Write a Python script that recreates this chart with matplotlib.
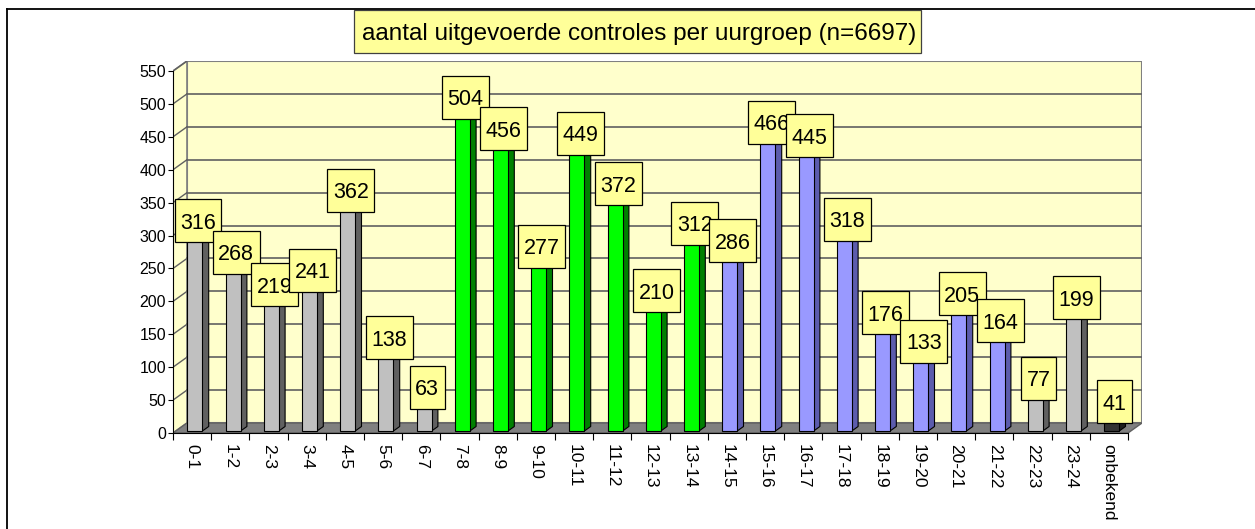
import matplotlib.pyplot as plt
import matplotlib.transforms as mtransforms
from matplotlib.patches import Polygon, Rectangle
import numpy as np

plt.rcParams['font.family'] = ['Liberation Sans', 'DejaVu Sans']

# data
hours = ['0-1', '1-2', '2-3', '3-4', '4-5', '5-6', '6-7', '7-8', '8-9', '9-10',
         '10-11', '11-12', '12-13', '13-14', '14-15', '15-16', '16-17', '17-18',
         '18-19', '19-20', '20-21', '21-22', '22-23', '23-24', 'onbekend']
counts = [316, 268, 219, 241, 362, 138, 63, 504, 456, 277, 449, 372, 210, 312,
          286, 466, 445, 318, 176, 133, 205, 164, 77, 199, 41]
groups = ['grijs'] * 7 + ['groen'] * 7 + ['blauw'] * 8 + ['grijs'] * 2 + ['onbekend']
title = 'aantal uitgevoerde controles per uurgroep (n=6697)'
yticks = list(range(0, 551, 50))

# front / side colour per group
colors = {'grijs': ('#c0c0c0', '#606060'),
          'groen': ('#00ff00', '#008000'),
          'blauw': ('#9999ff', '#5c5cad'),
          'onbekend': ('#333333', '#1e1e1e')}

W, H = 1255, 529
fig = plt.figure(figsize=(W / 100, H / 100), dpi=100)

n = len(hours)
ymax = yticks[-1]
dx, dy = 0.366, 15.2          # depth of the 3-d box, in data units
f0, f1 = 0.2, 0.65            # bar front / back as part of the depth
bw = 0.393                    # bar width

# axes placed in pixels: front plane 173..1128 wide, 433..71 high
left, right, bottom, top = 173, 1142, 433, 61
ax = fig.add_axes([left / W, 1 - bottom / H, (right - left) / W, (bottom - top) / H])
ax.set_xlim(-0.5, n - 0.5 + dx)
ax.set_ylim(0, ymax + dy)
ax.patch.set_visible(False)

wall = '#ffffcc'
edge = '#808080'
grid = '#606060'
x0, x1 = -0.5, n - 0.5

# back wall, side wall, floor
ax.add_patch(Rectangle((x0 + dx, dy), x1 - x0, ymax, facecolor=wall, edgecolor=edge, lw=1.5, zorder=0))
ax.add_patch(Polygon([(x0, 0), (x0 + dx, dy), (x0 + dx, ymax + dy), (x0, ymax)],
                     facecolor=wall, edgecolor=edge, lw=1.2, zorder=0))
for t in yticks[1:-1]:
    ax.plot([x0 + dx, x1 + dx], [t + dy, t + dy], color=grid, lw=1.2, zorder=1)
for t in yticks[1:]:
    ax.plot([x0, x0 + dx], [t, t + dy], color=grid, lw=1.0, zorder=1)
ax.add_patch(Polygon([(x0, 0), (x1, 0), (x1 + dx, dy), (x0 + dx, dy)],
                     facecolor='#808080', edgecolor='#606060', lw=1.0, zorder=2))

# bars
ddx, ddy = (f1 - f0) * dx, (f1 - f0) * dy
for i, (v, g) in enumerate(zip(counts, groups)):
    front, side = colors[g]
    bl = i - bw / 2 + f0 * dx
    br = bl + bw
    yb = f0 * dy
    yt = v + f0 * dy
    ax.add_patch(Polygon([(br, yb), (br + ddx, yb + ddy), (br + ddx, yt + ddy), (br, yt)],
                         facecolor=side, edgecolor='black', lw=0.8, zorder=3))
    ax.add_patch(Polygon([(bl, yt), (br, yt), (br + ddx, yt + ddy), (bl + ddx, yt + ddy)],
                         facecolor=front, edgecolor='black', lw=0.8, zorder=3))
    ax.add_patch(Rectangle((bl, yb), bw, v, facecolor=front, edgecolor='black', lw=0.8, zorder=3))

# value labels in yellow boxes
fs = 15.5
em = fs * 100 / 72
fm = (f0 + f1) / 2
for i, v in enumerate(counts):
    lx, ly = i + fm * dx, v + fm * dy
    w = len(str(v)) * 0.556 * em + 11
    h = 43
    tr = fig.dpi_scale_trans + mtransforms.ScaledTranslation(lx, ly, ax.transData)
    ax.add_patch(Rectangle((-w / 200, -h / 200), w / 100, h / 100, transform=tr,
                           facecolor='#ffff99', edgecolor='black', lw=0.9,
                           zorder=10 + 2 * i, clip_on=False))
    ax.text(lx, ly, str(v), ha='center', va='center_baseline', fontsize=fs,
            zorder=11 + 2 * i, clip_on=False)

# axes, ticks
for s in ['top', 'right']:
    ax.spines[s].set_visible(False)
ax.spines['left'].set_bounds(0, ymax)
ax.spines['bottom'].set_bounds(x0, x1)
ax.spines['left'].set_zorder(4)
ax.spines['bottom'].set_zorder(4)
ax.set_yticks(yticks)
ax.tick_params(axis='y', direction='out', length=3.6, width=0.8, labelsize=11.5, pad=1.5)
ax.set_xticks(np.arange(n + 1) - 0.5)
ax.set_xticklabels([])
ax.tick_params(axis='x', which='major', direction='out', length=5, width=0.8)
ax.set_xticks(np.arange(n), minor=True)
ax.set_xticklabels(hours, minor=True, rotation=270, fontsize=12.5)
ax.tick_params(axis='x', which='minor', length=0, pad=8)

# title box
fig.add_artist(Rectangle((354 / W, 1 - 53 / H), 567 / W, 43 / H, transform=fig.transFigure,
                         facecolor='#ffff99', edgecolor='#404040', lw=0.9))
fig.text(639 / W, 1 - 31.5 / H, title, ha='center', va='center_baseline', fontsize=17.5)

# chart area border
fig.add_artist(plt.Line2D([7 / W, 7 / W], [0, 1 - 9 / H], transform=fig.transFigure, color='black', lw=1.3))
fig.add_artist(plt.Line2D([7 / W, 1], [1 - 9 / H, 1 - 9 / H], transform=fig.transFigure, color='black', lw=1.3))

fig.savefig('out.png', dpi=100)
